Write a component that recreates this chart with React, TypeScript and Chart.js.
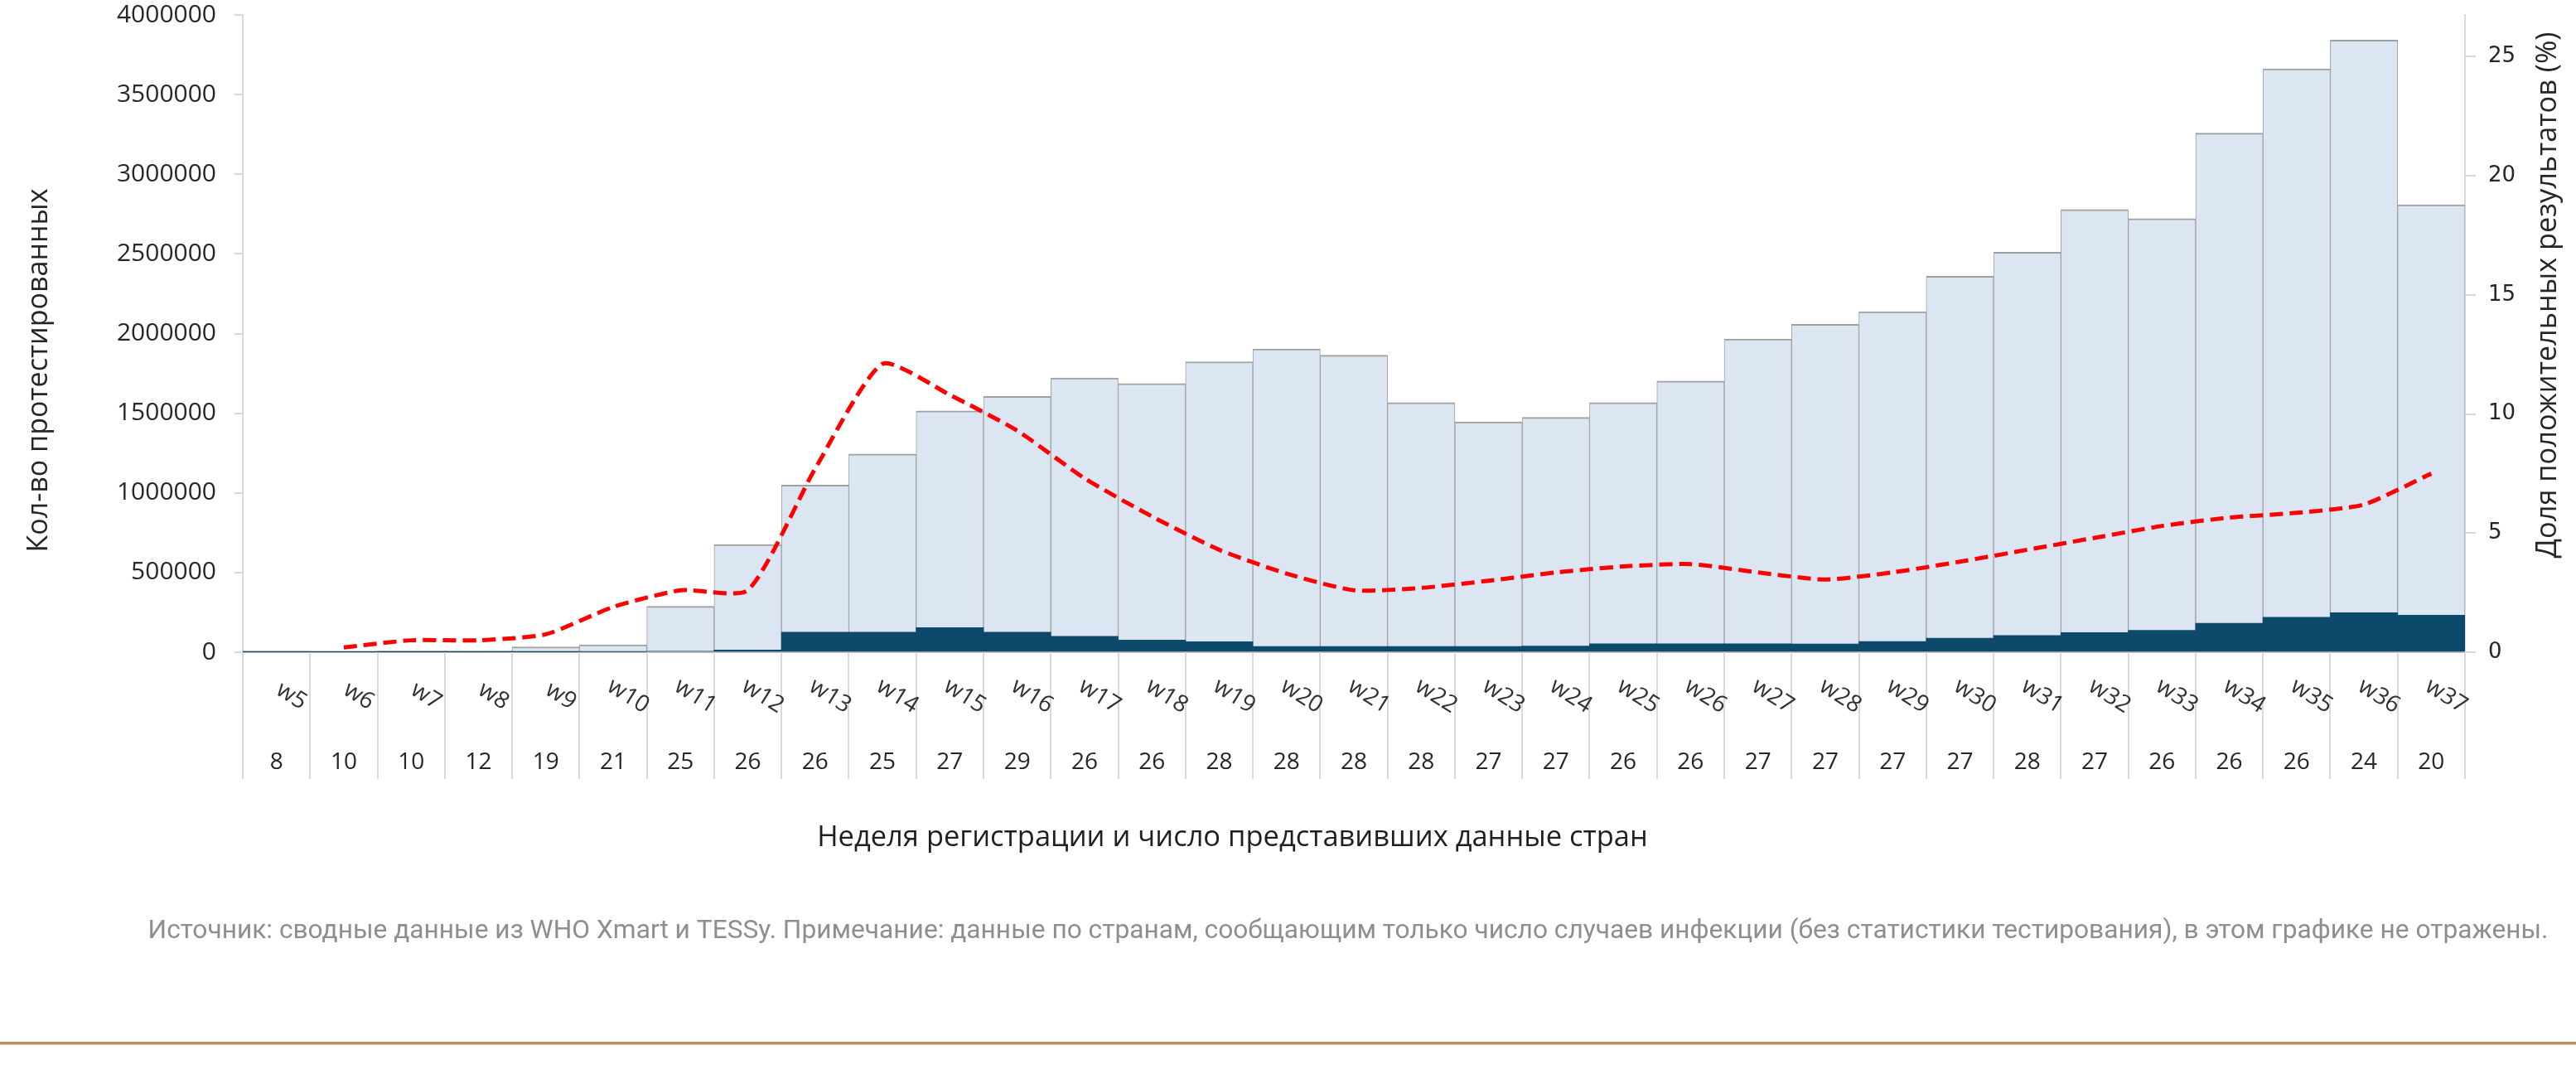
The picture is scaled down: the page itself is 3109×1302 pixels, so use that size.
import React, { useEffect, useRef } from "react";
import { Chart, registerables } from "chart.js";

Chart.register(...registerables);

const WEEKS = ["w5","w6","w7","w8","w9","w10","w11","w12","w13","w14","w15","w16","w17","w18","w19","w20","w21","w22","w23","w24","w25","w26","w27","w28","w29","w30","w31","w32","w33","w34","w35","w36","w37"];
const COUNTRIES = [8,10,10,12,19,21,25,26,26,25,27,29,26,26,28,28,28,28,27,27,26,26,27,27,27,27,28,27,26,26,26,24,20];
const TESTED = [6000,5000,8000,10000,34000,46000,288000,676000,1049000,1244000,1514000,1605000,1721000,1686000,1823000,1904000,1864000,1567000,1445000,1474000,1566000,1702000,1966000,2058000,2138000,2360000,2510000,2779000,2721000,3258000,3661000,3842000,2808000];
const POSITIVE = [200,300,500,700,1500,3000,6000,14000,126000,126000,154000,126000,100000,76000,66000,36000,36000,36000,36000,38000,53000,53000,53000,52000,67000,88000,105000,123000,138000,181000,220000,248000,233000];
const POSITIVITY = [null,0.2,0.5,0.5,0.75,1.9,2.6,2.6,7.7,12.1,10.8,9.3,7.3,5.7,4.3,3.3,2.6,2.7,3.0,3.35,3.6,3.7,3.35,3.05,3.35,3.8,4.3,4.8,5.3,5.65,5.85,6.2,7.5];

const LEFT_MAX = 4000000;
const LEFT_STEP = 500000;
const RIGHT_MAX = 26.75;
const RIGHT_STEP = 5;

const X_TITLE = "Неделя регистрации и число представивших данные стран";
const Y_TITLE = "Кол-во протестированных";
const Y2_TITLE = "Доля положительных результатов (%)";
const NOTE = "Источник: сводные данные из WHO Xmart и TESSy. Примечание: данные по странам, сообщающим только число случаев инфекции (без статистики тестирования), в этом графике не отражены.";

const W = 3109;
const H = 1302;

function fitFont(ctx: CanvasRenderingContext2D, text: string, family: string, target: number) {
  ctx.font = `100px ${family}`;
  const w = ctx.measureText(text).width;
  return (100 * target) / w;
}

const overlayPlugin = {
  id: "overlay",
  afterDraw(chart: any) {
    const ctx: CanvasRenderingContext2D = chart.ctx;
    const x = chart.scales.x;
    const area = chart.chartArea;
    ctx.save();
    const n = WEEKS.length;
    const step = (area.right - area.left) / n;
    ctx.strokeStyle = "#D9D9D9";
    ctx.lineWidth = 2;
    for (let i = 0; i <= n; i++) {
      const px = Math.round(area.left + i * step);
      ctx.beginPath();
      ctx.moveTo(px, area.bottom);
      ctx.lineTo(px, 940);
      ctx.stroke();
    }
    for (let i = 0; i < n; i++) {
      const cx = x.getPixelForValue(i);
      ctx.save();
      ctx.translate(cx + 18, 840);
      ctx.rotate((32 * Math.PI) / 180);
      ctx.font = "28px 'Open Sans'";
      ctx.fillStyle = "#303030";
      ctx.textAlign = "center";
      ctx.textBaseline = "middle";
      ctx.fillText(WEEKS[i], 0, 0);
      ctx.restore();
      ctx.font = "28px 'Open Sans'";
      ctx.fillStyle = "#262626";
      ctx.textAlign = "center";
      ctx.textBaseline = "middle";
      ctx.fillText(String(COUNTRIES[i]), cx, 920);
    }
    ctx.fillStyle = "#1F1F1F";
    ctx.textAlign = "center";
    ctx.textBaseline = "middle";
    let s = fitFont(ctx, X_TITLE, "'Open Sans'", 1003);
    ctx.font = `${s}px 'Open Sans'`;
    ctx.fillText(X_TITLE, 1487.5, 1011);
    s = fitFont(ctx, Y_TITLE, "'Open Sans'", 439);
    ctx.save();
    ctx.translate(47, 447);
    ctx.rotate(-Math.PI / 2);
    ctx.font = `${s}px 'Open Sans'`;
    ctx.fillStyle = "#262626";
    ctx.fillText(Y_TITLE, 0, 0);
    ctx.restore();
    s = fitFont(ctx, Y2_TITLE, "'Open Sans'", 635);
    ctx.save();
    ctx.translate(3075, 356);
    ctx.rotate(-Math.PI / 2);
    ctx.font = `${s}px 'Open Sans'`;
    ctx.fillStyle = "#262626";
    ctx.fillText(Y2_TITLE, 0, 0);
    ctx.restore();
    s = fitFont(ctx, NOTE, "Roboto", 2898);
    ctx.font = `${s}px Roboto`;
    ctx.fillStyle = "#8E8E8E";
    ctx.textAlign = "center";
    ctx.fillText(NOTE, 1627, 1124);
    ctx.fillStyle = "#BE915C";
    ctx.fillRect(0, 1257, W, 3.5);
    ctx.restore();
  },
};

export default function App() {
  const ref = useRef<HTMLCanvasElement | null>(null);
  useEffect(() => {
    document.body.style.margin = "0";
    const canvas = ref.current!;
    const noPad = (scale: any, width: number) => {
      scale.width = width;
      scale.paddingTop = 0;
      scale.paddingBottom = 0;
    };
    const chart = new Chart(canvas, {
      type: "bar",
      data: {
        labels: WEEKS,
        datasets: [
          {
            type: "line",
            label: "positivity",
            data: POSITIVITY as any,
            yAxisID: "y2",
            borderColor: "#FF0000",
            borderWidth: 5,
            borderDash: [16, 8],
            pointRadius: 0,
            tension: 0.2,
            fill: false,
            order: 0,
          } as any,
          {
            type: "bar",
            label: "positive",
            data: POSITIVE,
            yAxisID: "y",
            backgroundColor: "#0D496A",
            borderWidth: 0,
            barPercentage: 1,
            categoryPercentage: 1,
            grouped: false,
            order: 1,
          } as any,
          {
            type: "bar",
            label: "tested",
            data: TESTED,
            yAxisID: "y",
            backgroundColor: "#DCE6F2",
            borderColor: "#A0A0A0",
            borderWidth: { top: 2, left: 1, right: 1, bottom: 0 },
            borderSkipped: false,
            barPercentage: 1,
            categoryPercentage: 1,
            grouped: false,
            order: 2,
          } as any,
        ],
      },
      options: {
        responsive: false,
        devicePixelRatio: 1,
        animation: false,
        layout: { padding: { top: 18, left: 0, right: 0, bottom: 0 } },
        plugins: { legend: { display: false }, tooltip: { enabled: false } },
        scales: {
          x: {
            type: "category",
            offset: true,
            grid: { display: false },
            ticks: { display: false },
            border: { display: true, color: "#BFBFBF", width: 2 },
            afterFit: (scale: any) => {
              scale.height = 515;
              scale.paddingLeft = 0;
              scale.paddingRight = 0;
            },
          },
          y: {
            position: "left",
            min: 0,
            max: LEFT_MAX,
            ticks: {
              stepSize: LEFT_STEP,
              color: "#262626",
              font: { family: "'Open Sans'", size: 30 },
              padding: 22,
              callback: (v: any) => String(v),
            },
            grid: { drawOnChartArea: false, tickLength: 10, color: "#D9D9D9", lineWidth: 2 },
            border: { display: true, color: "#D9D9D9", width: 2 },
            afterFit: (scale: any) => noPad(scale, 293),
          },
          y2: {
            position: "right",
            min: 0,
            max: RIGHT_MAX,
            ticks: {
              stepSize: RIGHT_STEP,
              color: "#262626",
              font: { family: "'DejaVu Sans'", size: 26 },
              padding: 15,
              callback: (v: any) => String(v),
            },
            afterBuildTicks: (scale: any) => {
              scale.ticks = scale.ticks.filter((t: any) => Math.abs(t.value % RIGHT_STEP) < 1e-6);
            },
            grid: { drawOnChartArea: false, tickLength: 13, color: "#D9D9D9", lineWidth: 2 },
            border: { display: true, color: "#D9D9D9", width: 2 },
            afterFit: (scale: any) => noPad(scale, 134),
          },
        },
      } as any,
      plugins: [overlayPlugin],
    });
    return () => chart.destroy();
  }, []);
  return <canvas ref={ref} width={W} height={H} style={{ display: "block", width: W, height: H }} />;
}
